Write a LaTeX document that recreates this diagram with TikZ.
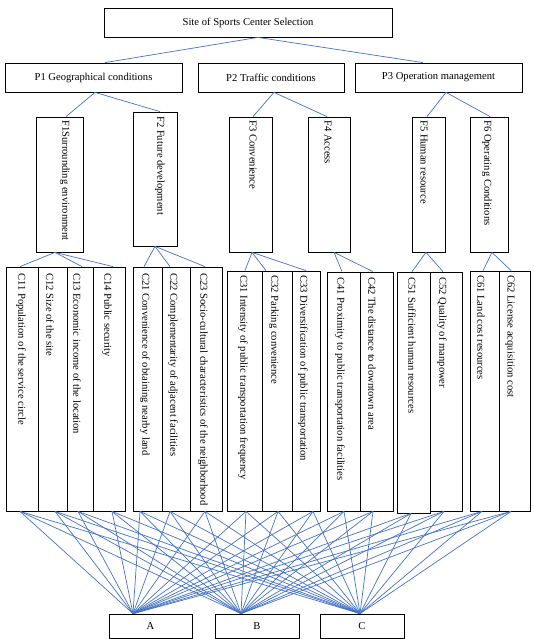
\documentclass[tikz,border=0pt]{standalone}
\usepackage{fontspec}
\setmainfont{Liberation Serif}
\usetikzlibrary{fit}
\definecolor{lineblue}{HTML}{4472C4}
\tikzset{
  box/.style={draw=black, line width=0.8pt, inner sep=0pt, fill=none},
  ht/.style={font=\fontsize{10.6}{12}\selectfont},
  vt/.style={font=\fontsize{10.6}{12}\selectfont, rotate=-90, anchor=west, inner sep=0pt},
  link/.style={draw=lineblue, line width=0.7pt},
}
\newcommand\bx[5]{\node[box, fit={(#2,#3) (#4,#5)}] (#1) {};}
\begin{document}
\begin{tikzpicture}[x=1pt, y=-1pt]
\useasboundingbox (0,0) rectangle (533,639);
% top level
\bx{top}{104}{8}{392}{37}
\node[ht] (topt) at (top.center) {Site of Sports Center Selection};
\bx{p1}{5}{63}{182}{92}
\node[ht] (p1t) at (p1.center) {P1 Geographical conditions};
\bx{p2}{198}{63}{344}{92}
\node[ht] (p2t) at (p2.center) {P2 Traffic conditions};
\bx{p3}{355}{63}{522}{92}
\node[ht] (p3t) at (p3.center) {P3 Operation management};
% F level
\bx{f1}{36}{117}{83}{252}
\node[vt] (f1t) at (65,120) {F1Surrounding environment};
\bx{f2}{133}{112}{177}{246}
\node[vt] (f2t) at (160,116) {F2 Future development};
\bx{f3}{229}{117}{272}{252}
\node[vt] (f3t) at (253,120) {F3 Convenience};
\bx{f4}{308}{117}{350}{252}
\node[vt] (f4t) at (328,120) {F4 Access};
\bx{f5}{412}{117}{445}{252}
\node[vt] (f5t) at (424,120) {F5 Human resource};
\bx{f6}{470}{117}{508}{252}
\node[vt] (f6t) at (487,120) {F6 Operating Conditions};
% C level
\bx{c11}{6}{267}{38}{511}
\node[vt] (c11t) at (21,273) {C11 Population of the service circle};
\bx{c12}{38}{267}{67}{511}
\node[vt] (c12t) at (50,273) {C12 Size of the site};
\bx{c13}{67}{267}{93}{511}
\node[vt] (c13t) at (77,273) {C13 Economic income of the location};
\bx{c14}{93}{267}{125}{511}
\node[vt] (c14t) at (107,273) {C14 Public security};
\bx{c21}{133}{267}{162}{511}
\node[vt] (c21t) at (145,273) {C21 Convenience of obtaining nearby land};
\bx{c22}{162}{267}{190}{511}
\node[vt] (c22t) at (173,273) {C22 Complementarity of adjacent facilities};
\bx{c23}{190}{267}{222}{511}
\node[vt] (c23t) at (203,273) {C23 Socio-cultural characteristics of the neighborhood};
\bx{c31}{227}{271}{262}{511}
\node[vt] (c31t) at (243,275) {C31 Intensity of public transportation frequency};
\bx{c32}{262}{271}{292}{511}
\node[vt] (c32t) at (274,275) {C32 Parking convenience};
\bx{c33}{292}{271}{320}{511}
\node[vt] (c33t) at (303,275) {C33 Diversification of public transportation};
\bx{c41}{327}{272}{360}{511}
\node[vt] (c41t) at (340,277) {C41 Proximity to public transportation facilities};
\bx{c42}{360}{272}{393}{511}
\node[vt] (c42t) at (372,277) {C42 The distance to downtown area};
\bx{c51}{397}{272}{430}{513}
\node[vt] (c51t) at (412,277) {C51 Sufficient human resources};
\bx{c52}{430}{272}{462}{511}
\node[vt] (c52t) at (442,277) {C52 Quality of manpower};
\bx{c61}{470}{271}{499}{511}
\node[vt] (c61t) at (481,275) {C61 Land cost resources};
\bx{c62}{499}{271}{530}{511}
\node[vt] (c62t) at (510,275) {C62 License acquisition cost};
% alternatives
\bx{ra}{109}{614}{192}{638}
\node[ht] (rat) at (ra.center) {A};
\bx{rb}{215}{614}{299}{638}
\node[ht] (rbt) at (rb.center) {B};
\bx{rc}{320}{614}{404}{638}
\node[ht] (rct) at (rc.center) {C};
% connectors top
\draw[link] (258,0 |- top.south) -- (105,0 |- p1.north);
\draw[link] (258,0 |- top.south) -- (423,0 |- p3.north);
\draw[link] (95,0 |- p1.south) -- (66,0 |- f1.north);
\draw[link] (95,0 |- p1.south) -- (160,0 |- f2.north);
\draw[link] (274,0 |- p2.south) -- (253,0 |- f3.north);
\draw[link] (274,0 |- p2.south) -- (327,0 |- f4.north);
\draw[link] (446,0 |- p3.south) -- (427,0 |- f5.north);
\draw[link] (446,0 |- p3.south) -- (490,0 |- f6.north);
% F to C
\draw[link] (55,0 |- f1.south) -- (20,0 |- c11.north);
\draw[link] (55,0 |- f1.south) -- (82,0 |- c13.north);
\draw[link] (55,0 |- f1.south) -- (113,0 |- c14.north);
\draw[link] (155,0 |- f2.south) -- (144,0 |- c21.north);
\draw[link] (155,0 |- f2.south) -- (170,0 |- c22.north);
\draw[link] (155,0 |- f2.south) -- (205,0 |- c23.north);
\draw[link] (252,0 |- f3.south) -- (245,0 |- c31.north);
\draw[link] (252,0 |- f3.south) -- (266,0 |- c32.north);
\draw[link] (252,0 |- f3.south) -- (306,0 |- c33.north);
\draw[link] (334,0 |- f4.south) -- (342,0 |- c41.north);
\draw[link] (334,0 |- f4.south) -- (373,0 |- c42.north);
\draw[link] (426,0 |- f5.south) -- (412,0 |- c51.north);
\draw[link] (426,0 |- f5.south) -- (443,0 |- c52.north);
\draw[link] (492,0 |- f6.south) -- (483,0 |- c61.north);
\draw[link] (492,0 |- f6.south) -- (511,0 |- c62.north);
% C to alternatives
\foreach \n/\x in {c11/20, c12/55, c13/78, c14/112, c21/140, c22/170, c23/205, c31/246,
                   c32/278, c33/313, c41/344, c42/373, c51/411, c52/444, c61/482, c62/511}
  \foreach \t/\tx in {ra/133, rb/241, rc/360}
    \draw[link] (\x,0 |- \n.south) -- (\tx,0 |- \t.north);
\end{tikzpicture}
\end{document}
